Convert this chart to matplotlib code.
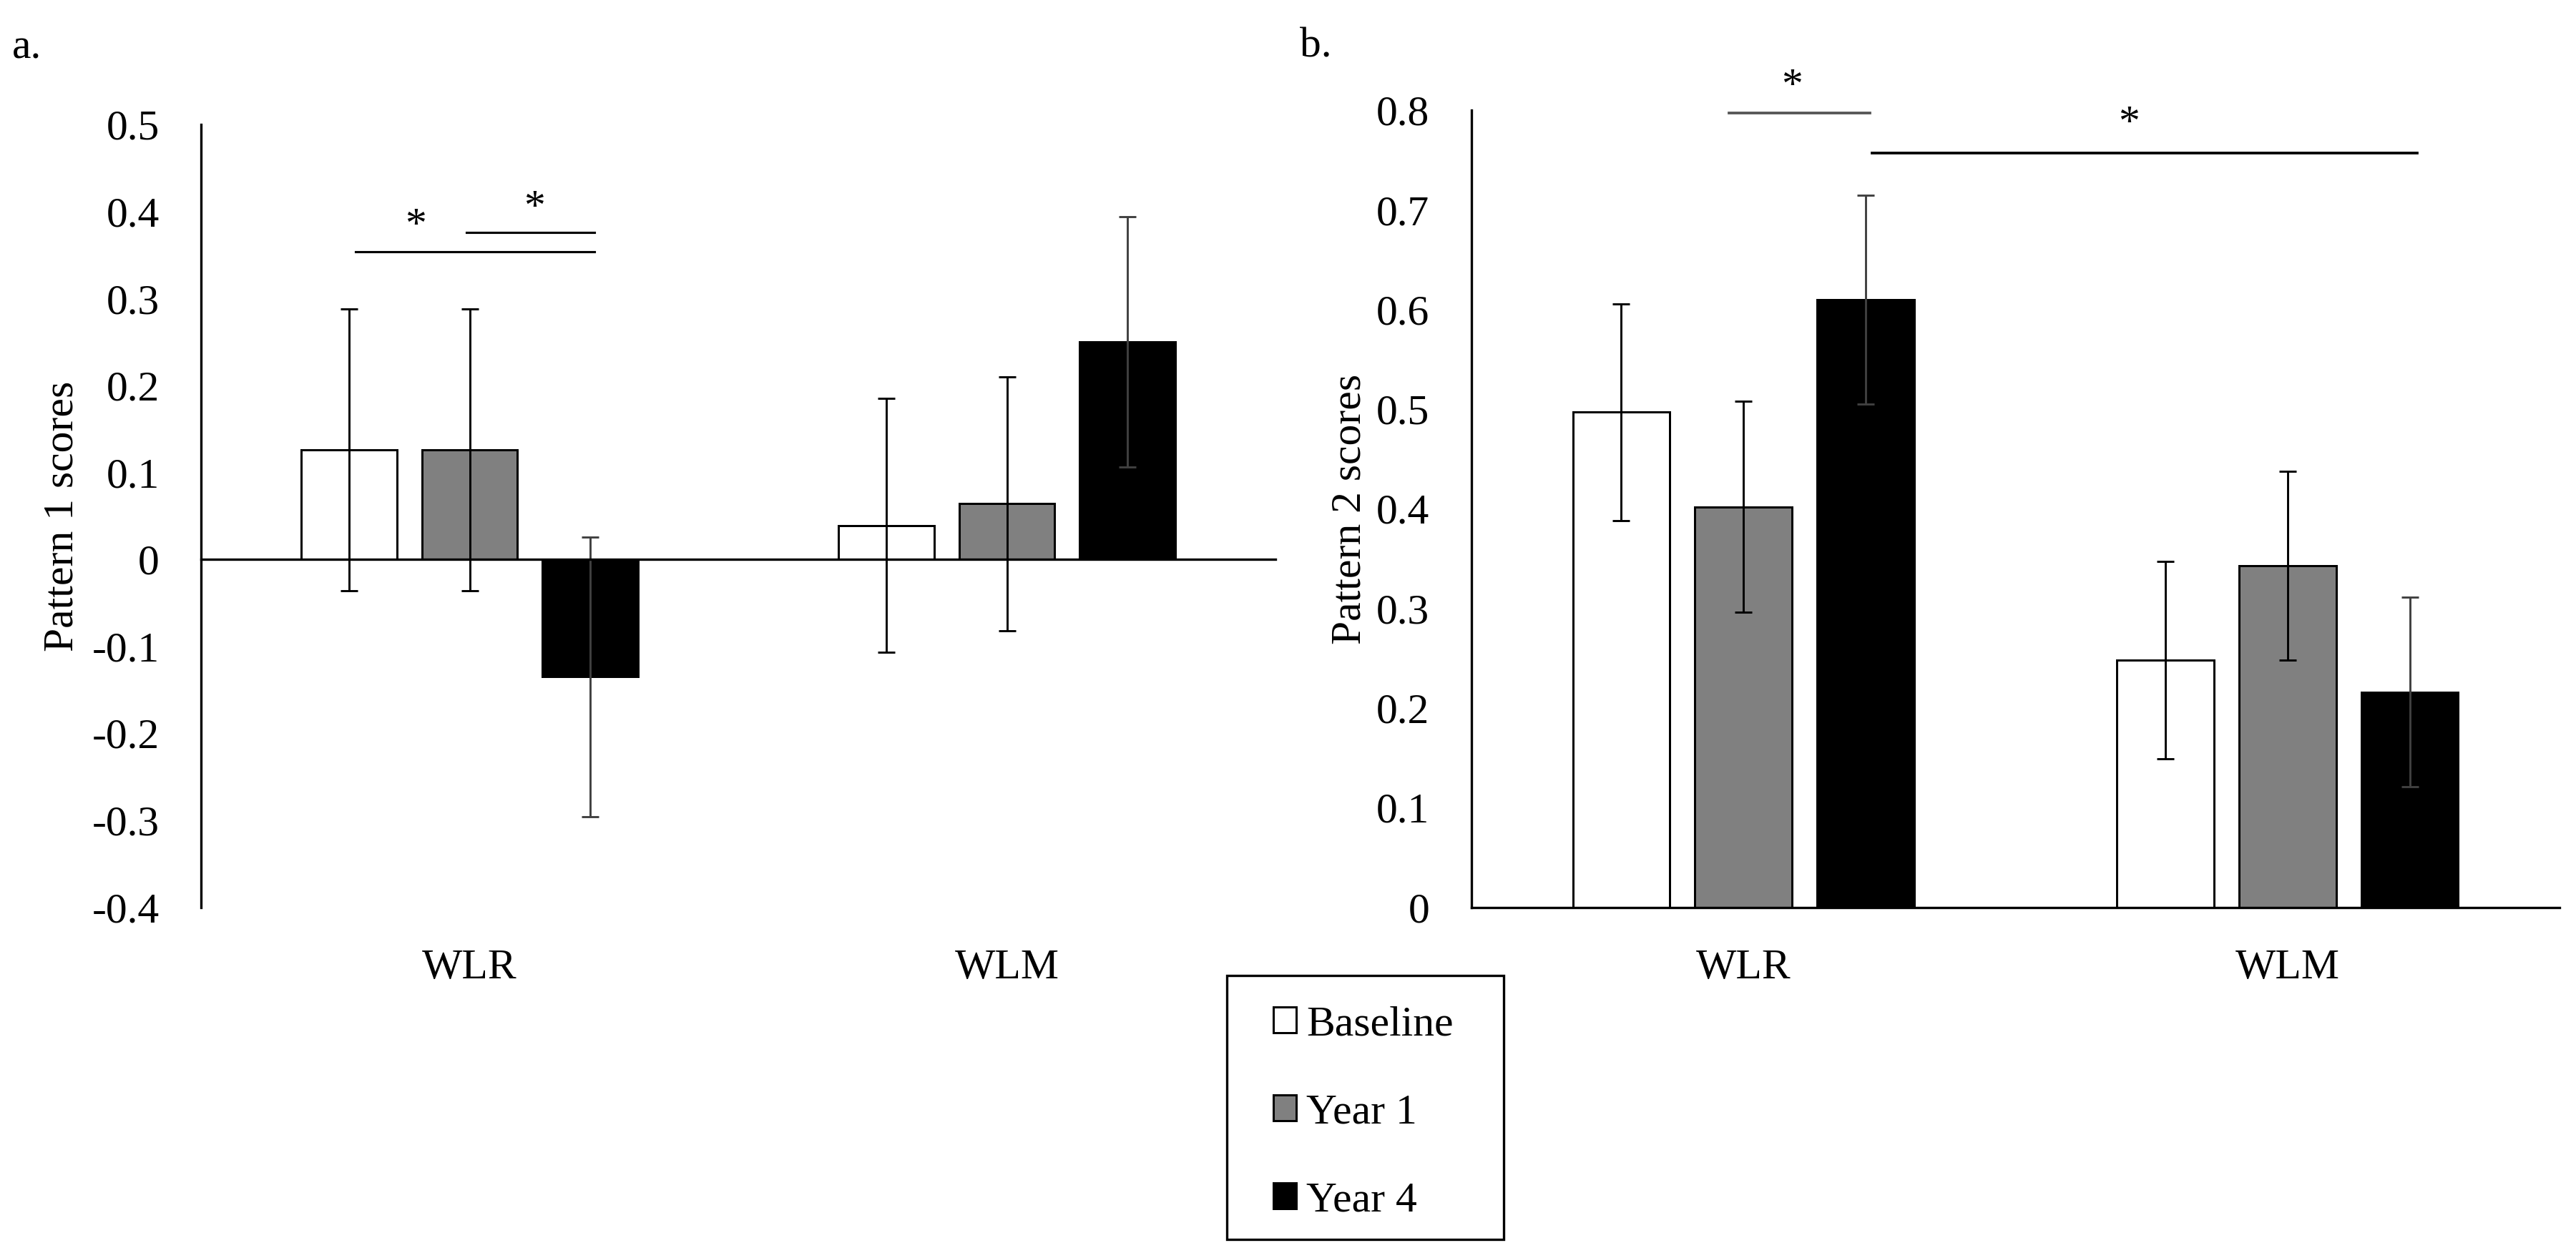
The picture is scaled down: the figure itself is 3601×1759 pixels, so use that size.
import numpy as np
import matplotlib
matplotlib.use('Agg')
import matplotlib.pyplot as plt
from matplotlib.patches import Rectangle
from matplotlib.transforms import offset_copy

# ---------------- data ----------------
categories = ['WLR', 'WLM']
series = ['Baseline', 'Year 1', 'Year 4']

a_baseline = [0.126, 0.039]
a_year1 = [0.126, 0.064]
a_year4 = [-0.135, 0.250]
a_err_baseline = [0.162, 0.146]
a_err_year1 = [0.162, 0.146]
a_err_year4 = [0.161, 0.144]

b_baseline = [0.497, 0.248]
b_year1 = [0.402, 0.343]
b_year4 = [0.610, 0.216]
b_err_baseline = [0.109, 0.099]
b_err_year1 = [0.106, 0.095]
b_err_year4 = [0.105, 0.095]

a_ticks = [-0.4, -0.3, -0.2, -0.1, 0, 0.1, 0.2, 0.3, 0.4, 0.5]
b_ticks = [0, 0.1, 0.2, 0.3, 0.4, 0.5, 0.6, 0.7, 0.8]

# significance lines (x start, x end, y) and stars (x, y) in data units
a_sig_lines = [(-0.212, 0.233, 0.354), (-0.006, 0.233, 0.376)]
a_stars = [(-0.100, 0.394), (0.120, 0.415)]
b_sig_lines = [(-0.027, 0.233, 0.797), (0.236, 1.238, 0.757)]
b_stars = [(0.089, 0.833), (0.708, 0.796)]

# ---------------- style ----------------
plt.rcParams['font.family'] = ['Liberation Serif', 'DejaVu Serif']
FS = 14.3
W, H = 3601, 1759
DPI = 300
bar_colors = ['#ffffff', '#808080', '#000000']
err_colors = ['#000000', '#000000', '#404040']
b_sig_colors = ['#555555', '#000000']
offsets = [-0.2245, 0.0, 0.2245]
bar_w = 0.178

fig = plt.figure(figsize=(W / DPI, H / DPI), dpi=DPI)
ax_a = fig.add_axes([281 / W, 1 - 1268.5 / H, 1502 / W, (1268.5 - 174.4) / H])
ax_b = fig.add_axes([2056.7 / W, 1 - 1268.7 / H, 1521.6 / W, (1268.7 - 154.3) / H])


def draw(ax, vals, errs, ticks, ylabel, ylim, label_x):
    x = np.arange(len(categories))
    containers = []
    for i, s in enumerate(series):
        c = ax.bar(x + offsets[i], vals[i], width=bar_w, color=bar_colors[i],
                   edgecolor='black', linewidth=0.72, label=s, zorder=2,
                   yerr=errs[i],
                   error_kw=dict(ecolor=err_colors[i], elinewidth=0.7,
                                 capsize=2.85, capthick=0.7, zorder=3))
        containers.append(c)
    ax.set_xlim(-0.5, len(categories) - 0.5)
    ax.set_ylim(*ylim)
    ax.set_yticks(ticks)
    ax.set_yticklabels([f"{t:g}" for t in ticks])
    ax.set_xticks(x)
    ax.set_xticklabels(categories)
    ax.tick_params(axis='both', length=0, pad=14, labelsize=FS)
    for sp in ['top', 'right', 'bottom']:
        ax.spines[sp].set_visible(False)
    ax.spines['left'].set_linewidth(0.8)
    ax.axhline(0, color='black', lw=0.8, zorder=4, clip_on=False)
    ax.set_ylabel(ylabel, fontsize=FS)
    ax.yaxis.set_label_coords(label_x, 0.5)
    return containers


cont = draw(ax_a, [a_baseline, a_year1, a_year4],
            [a_err_baseline, a_err_year1, a_err_year4],
            a_ticks, 'Pattern 1 scores', (-0.4, 0.5), -0.111)
draw(ax_b, [b_baseline, b_year1, b_year4],
     [b_err_baseline, b_err_year1, b_err_year4],
     b_ticks, 'Pattern 2 scores', (0, 0.8), -0.0937)

for (x0, x1, y) in a_sig_lines:
    ax_a.plot([x0, x1], [y, y], color='black', lw=0.75, clip_on=False, zorder=5)
for (x0, x1, y), col in zip(b_sig_lines, b_sig_colors):
    ax_b.plot([x0, x1], [y, y], color=col, lw=0.9, clip_on=False, zorder=5)

for ax, stars in [(ax_a, a_stars), (ax_b, b_stars)]:
    tr = offset_copy(ax.transData, fig=fig, x=0, y=-0.47 * FS, units='points')
    for (x, y) in stars:
        ax.text(x, y, '*', transform=tr, ha='center', va='baseline',
                fontsize=FS, clip_on=False)

fig.text(17 / W, 1 - 81 / H, 'a.', fontsize=FS, va='baseline', ha='left')
fig.text(1817 / W, 1 - 79 / H, 'b.', fontsize=FS, va='baseline', ha='left')

leg = fig.legend(cont, series, loc='upper left',
                 bbox_to_anchor=(1780 / W, 1 - 1406 / H),
                 frameon=False, borderpad=0, borderaxespad=0,
                 handlelength=0.54, handleheight=0.54, handletextpad=0.24,
                 labelspacing=1.16, fontsize=FS)
fig.add_artist(Rectangle((1715 / W, 1 - 1733 / H), (2102 - 1715) / W,
                         (1733 - 1364) / H, transform=fig.transFigure,
                         fill=False, edgecolor='black', lw=0.8))

fig.savefig('out.png', dpi=DPI, facecolor='white')
